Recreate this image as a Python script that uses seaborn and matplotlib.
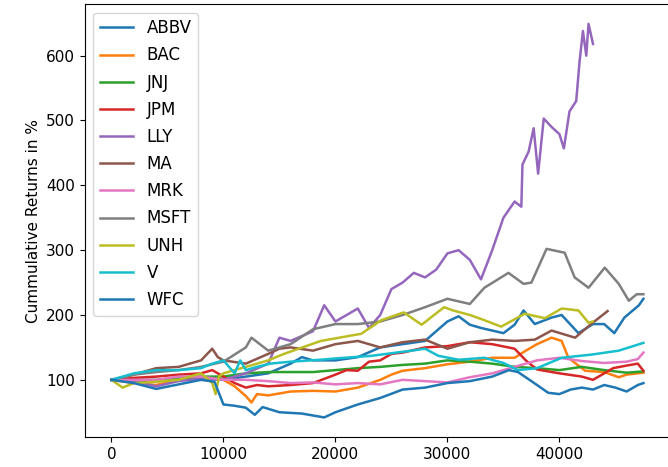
import matplotlib
matplotlib.use("Agg")

import pandas as pd
import matplotlib.pyplot as plt
import seaborn as sns

# ======================
# DATA
# ======================
ABBV_X = [0, 4000, 8000, 10000, 12000, 14000, 16000, 17000, 18000, 20000, 22000, 24000, 26000,
          28000, 29000, 30000, 31000, 32000, 33000, 35000, 36000, 36800, 37800, 39300, 40200,
          41700, 43000, 44000, 44900, 45800, 47100, 47500]
ABBV_Y = [100, 98, 102, 100, 105, 110, 125, 135, 130, 130, 135, 150, 155,
          160, 175, 190, 198, 185, 180, 172, 185, 207, 186, 196, 200,
          172, 186, 186, 172, 196, 215, 225]

BAC_X = [0, 2000, 4000, 6000, 8000, 10000, 11000, 12000, 12500, 13000, 14000, 16000, 18000,
         20000, 22000, 24000, 25000, 26000, 28000, 30000, 32000, 34000, 36000, 37000, 38000,
         39300, 40200, 40800, 42300, 44000, 45300, 46000, 47500]
BAC_Y = [100, 95, 92, 100, 105, 100, 90, 75, 65, 78, 76, 82, 83,
         82, 88, 100, 108, 114, 118, 124, 128, 134, 134, 145, 155,
         165, 160, 134, 114, 112, 104, 108, 111]

JNJ_X = [0, 4000, 8000, 10000, 12000, 14000, 16000, 18000, 20000, 22000, 24000, 26000, 28000,
         30000, 32000, 34000, 36000, 38000, 40000, 42000, 44000, 46000, 47500]
JNJ_Y = [100, 100, 105, 105, 110, 112, 112, 112, 115, 118, 120, 123, 125,
         130, 128, 125, 120, 118, 115, 120, 115, 111, 113]

JPM_X = [0, 2000, 4000, 6000, 8000, 9000, 10000, 11000, 12000, 13000, 14000, 16000, 18000,
         20000, 21000, 22000, 23000, 24000, 25000, 26000, 28000, 30000, 32000, 34000, 36000,
         37000, 38000, 40000, 42000, 43000, 44800, 46000, 47000, 47500]
JPM_Y = [100, 103, 105, 108, 110, 115, 105, 95, 88, 92, 90, 92, 95,
         108, 115, 114, 128, 130, 140, 142, 150, 152, 158, 155, 148,
         130, 116, 110, 105, 100, 118, 122, 125, 114]

LLY_X = [0, 2000, 4000, 6000, 8000, 10000, 12000, 14000, 15000, 16000, 18000, 19000, 20000,
         22000, 23000, 24000, 25000, 26000, 27000, 28000, 29000, 30000, 31000, 32000, 33000,
         34000, 35000, 36000, 36600, 36700, 37250, 37700, 38100, 38600, 39300, 40000, 40400,
         40900, 41500, 41800, 42100, 42400, 42600, 43000]
LLY_Y = [100, 98, 90, 98, 102, 100, 110, 125, 165, 160, 175, 215, 190,
         210, 180, 200, 240, 250, 265, 258, 270, 295, 300, 285, 255,
         300, 350, 375, 367, 432, 452, 488, 418, 503, 490, 479, 457,
         514, 530, 591, 638, 600, 649, 618]

MA_X = [0, 2000, 4000, 6000, 8000, 9000, 9500, 10000, 12000, 14000, 15000, 16000, 18000,
        20000, 22000, 24000, 26000, 28000, 30000, 32000, 34000, 36000, 37800, 39300, 41400,
        42900, 44300]
MA_Y = [100, 108, 118, 120, 130, 148, 135, 130, 125, 140, 148, 150, 145,
        155, 160, 150, 158, 162, 148, 158, 162, 160, 162, 176, 165,
        187, 206]

MRK_X = [0, 4000, 6000, 8000, 10000, 12000, 14000, 16000, 18000, 20000, 22000, 24000, 26000,
         28000, 30000, 32000, 34000, 36000, 38000, 40000, 42000, 44000, 46000, 47000, 47500]
MRK_Y = [100, 100, 105, 105, 100, 100, 98, 95, 96, 93, 95, 93, 100,
         98, 96, 104, 110, 120, 130, 134, 129, 126, 128, 132, 142]

MSFT_X = [0, 2000, 4000, 6000, 8000, 10000, 12000, 12500, 14000, 16000, 18000, 20000, 22000,
          24000, 26000, 28000, 30000, 32000, 33300, 35450, 36800, 37500, 38850, 40470, 41360,
          42600, 44050, 45300, 46200, 46900, 47500]
MSFT_Y = [100, 108, 112, 115, 120, 128, 150, 165, 145, 155, 178, 186, 186,
          190, 200, 212, 225, 217, 242, 265, 248, 250, 302, 296, 258,
          242, 273, 248, 222, 232, 232]

UNH_X = [0, 1000, 2000, 4000, 6000, 8000, 9000, 9300, 9600, 10000, 12000, 14000, 15400,
         18700, 22300, 24100, 26100, 27700, 29700, 30500, 32000, 33300, 34800, 36900, 38700,
         40200, 41700, 42600, 43000]
UNH_Y = [100, 88, 95, 97, 100, 110, 95, 78, 105, 110, 120, 130, 140,
         160, 171, 192, 204, 185, 212, 207, 200, 192, 182, 202, 195,
         210, 207, 188, 190]

V_X = [0, 2000, 4000, 6000, 8000, 9000, 10000, 10500, 11000, 11500, 12000, 13000, 14200,
       16000, 18700, 20000, 23200, 26800, 28000, 29200, 31000, 33300, 35000, 36300, 38000,
       40200, 42900, 45300, 47500]
V_Y = [100, 110, 115, 115, 118, 125, 130, 120, 110, 130, 115, 120, 125,
       128, 131, 133, 137, 145, 148, 137, 131, 134, 126, 115, 118,
       134, 139, 145, 157]

WFC_X = [0, 2000, 4000, 6000, 8000, 9200, 10000, 11000, 12000, 12800, 13500, 15000, 17000,
         19000, 20000, 22000, 24000, 26000, 28000, 30000, 32000, 34000, 35500, 36300, 37500,
         39000, 40000, 41000, 42000, 43000, 44000, 45000, 46000, 47000, 47500]
WFC_Y = [100, 95, 86, 93, 100, 97, 62, 60, 57, 46, 58, 50, 48,
         42, 50, 62, 72, 85, 88, 95, 98, 105, 115, 112, 98,
         80, 78, 85, 88, 85, 92, 88, 82, 92, 95]

SYMBOLS = ["ABBV", "BAC", "JNJ", "JPM", "LLY", "MA", "MRK", "MSFT", "UNH", "V", "WFC"]
SERIES_X = [ABBV_X, BAC_X, JNJ_X, JPM_X, LLY_X, MA_X, MRK_X, MSFT_X, UNH_X, V_X, WFC_X]
SERIES_Y = [ABBV_Y, BAC_Y, JNJ_Y, JPM_Y, LLY_Y, MA_Y, MRK_Y, MSFT_Y, UNH_Y, V_Y, WFC_Y]

# ======================
# LONG FORMAT
# ======================
frames = []
for sym, xs, ys in zip(SYMBOLS, SERIES_X, SERIES_Y):
    frames.append(pd.DataFrame({"idx": xs, "ret": ys, "symbol": sym}))
df = pd.concat(frames, ignore_index=True)

# tab10 cycle, 11th line wraps back to blue
tab10 = sns.color_palette("tab10", 10)
palette = {sym: tab10[i % 10] for i, sym in enumerate(SYMBOLS)}

# ======================
# PLOT
# ======================
fig = plt.figure(figsize=(6.68, 4.67), dpi=100)
ax = fig.add_axes([0.127, 0.064, 0.876, 0.927])

sns.lineplot(
    data=df, x="idx", y="ret", hue="symbol",
    hue_order=SYMBOLS, palette=palette,
    estimator=None, sort=True, linewidth=1.8, ax=ax
)

ax.set_xlabel("")
ax.set_ylabel("Cummulative Returns in %", fontsize=11)
ax.set_xticks([0, 10000, 20000, 30000, 40000])
ax.set_yticks([100, 200, 300, 400, 500, 600])
ax.tick_params(labelsize=11)

sns.move_legend(ax, "upper left", title=None, fontsize=12, labelspacing=0.55)

fig.savefig("out.png", dpi=100)
